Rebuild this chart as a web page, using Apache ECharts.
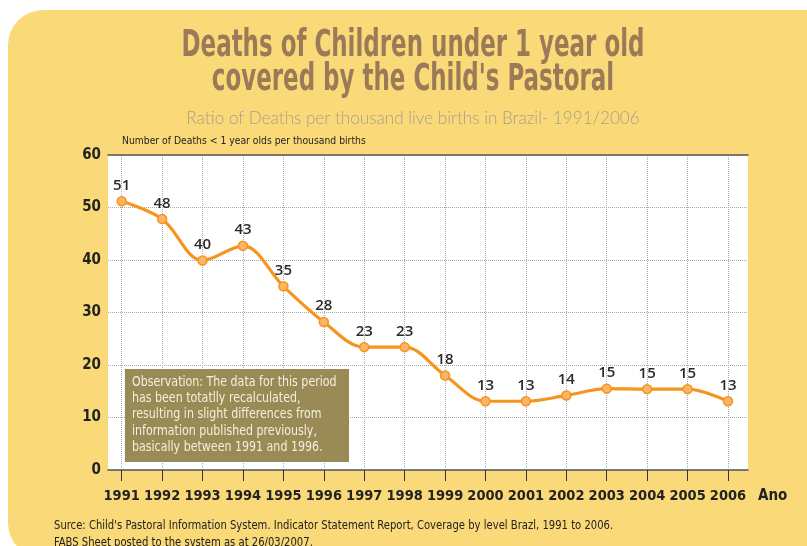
<!DOCTYPE html>
<html>
<head>
<meta charset="utf-8">
<script src="https://cdn.jsdelivr.net/npm/echarts@6/dist/echarts.min.js"></script>
<style>
  html, body { margin: 0; padding: 0; background: #ffffff; overflow: hidden; }
  #panel { position: absolute; left: 8px; top: 10px; width: 830px; height: 548px;
           background: #fad978; border-radius: 35px 0 0 35px; }
  #chart { position: absolute; left: 0; top: 0; width: 807px; height: 546px; }
</style>
</head>
<body>
<div id="panel"></div>
<div id="chart"></div>
<script>
// ---- data ----
const years = ['1991','1992','1993','1994','1995','1996','1997','1998','1999','2000','2001','2002','2003','2004','2005','2006'];
const deathRate = [51.2, 47.8, 39.9, 42.7, 35.0, 28.2, 23.4, 23.4, 18.0, 13.1, 13.1, 14.2, 15.5, 15.4, 15.4, 13.1];
const pointLabels = ['51','48','40','43','35','28','23','23','18','13','13','14','15','15','15','13'];
const yTicks = { min: 0, max: 60, interval: 10 };

const titleLine1 = 'Deaths of Children under 1 year old';
const titleLine2 = "covered by the Child's Pastoral";
const subtitle = 'Ratio of Deaths per thousand live births in Brazil- 1991/2006';
const yAxisName = 'Number of Deaths < 1 year olds per thousand births';
const xAxisName = 'Ano';
const noteLines = [
  'Observation: The data for this period',
  'has been totatlly recalculated,',
  'resulting in slight differences from',
  'information published previously,',
  'basically between 1991 and 1996.'
];
const footer1 = "Surce: Child's Pastoral Information System. Indicator Statement Report, Coverage by level Brazl, 1991 to 2006.";
const footer2 = 'FABS Sheet posted to the system as at 26/03/2007.';

const NARROW = "'Liberation Sans Narrow', 'DejaVu Sans Condensed', sans-serif";

const chart = echarts.init(document.getElementById('chart'), null, { renderer: 'canvas' });

const option = {
  backgroundColor: 'transparent',
  animation: false,
  grid: [
    { left: 108, right: 59, top: 155, bottom: 76, show: true, backgroundColor: '#ffffff', borderWidth: 0 },
    { left: 121.7, right: 79, top: 155, bottom: 76 }
  ],
  xAxis: [
    { gridIndex: 0, type: 'value', min: 0, max: 1, position: 'bottom',
      axisLine: { show: true, lineStyle: { color: '#555', width: 1.5 } },
      axisTick: { show: false }, axisLabel: { show: false }, splitLine: { show: false } },
    { gridIndex: 0, type: 'value', min: 0, max: 1, position: 'top',
      axisLine: { show: true, lineStyle: { color: '#555', width: 1.5 } },
      axisTick: { show: false }, axisLabel: { show: false }, splitLine: { show: false } },
    { gridIndex: 1, type: 'category', data: years, boundaryGap: false, position: 'bottom',
      axisLine: { show: false },
      axisTick: { show: true, length: 11, inside: false, interval: 0, lineStyle: { color: '#333', width: 1 } },
      axisLabel: { show: true, interval: 0, margin: 19, color: '#222', fontSize: 14.5, fontWeight: 'bold', fontFamily: NARROW },
      splitLine: { show: true, interval: 0, lineStyle: { color: '#aaa', type: 'dotted', width: 1 } } }
  ],
  yAxis: [
    { gridIndex: 0, type: 'value', min: yTicks.min, max: yTicks.max, interval: yTicks.interval,
      axisLine: { show: false }, axisTick: { show: false },
      axisLabel: { show: true, margin: 7, color: '#222', fontSize: 15, fontWeight: 'bold', fontFamily: NARROW },
      splitLine: { show: true, lineStyle: { color: '#aaa', type: 'dotted', width: 1 } } },
    { gridIndex: 1, type: 'value', min: yTicks.min, max: yTicks.max, interval: yTicks.interval, show: false }
  ],
  series: [{
    type: 'line',
    xAxisIndex: 2, yAxisIndex: 1,
    data: deathRate,
    smooth: 0.35,
    symbol: 'circle',
    symbolSize: 9,
    lineStyle: { color: '#f7941e', width: 3.2 },
    itemStyle: { color: '#fbb56a', borderColor: '#f7941e', borderWidth: 1.5 },
    label: {
      show: true, position: 'top', distance: 3,
      formatter: p => pointLabels[p.dataIndex],
      color: '#2a2a2a', fontSize: 15, fontWeight: 600, fontFamily: "'Open Sans', sans-serif"
    },
    z: 5
  }],
  graphic: [
    { type: 'text', x: 413, y: 46, z: 50, scaleX: 0.69,
      style: { text: titleLine1, fill: '#9b7a58', font: "bold 37px " + NARROW, align: 'center', verticalAlign: 'middle' } },
    { type: 'text', x: 413, y: 80, z: 50, scaleX: 0.69,
      style: { text: titleLine2, fill: '#9b7a58', font: "bold 37px " + NARROW, align: 'center', verticalAlign: 'middle' } },
    { type: 'text', x: 413, y: 118, z: 50, scaleX: 0.95,
      style: { text: subtitle, fill: '#a8a08c', font: "300 18px Lato, 'Open Sans', sans-serif", align: 'center', verticalAlign: 'middle' } },
    { type: 'text', x: 122, y: 141, z: 50, scaleX: 0.935,
      style: { text: yAxisName, fill: '#222', font: "11px " + NARROW, align: 'left', verticalAlign: 'middle' } },
    { type: 'text', x: 758, y: 496, z: 50,
      style: { text: xAxisName, fill: '#222', font: "bold 15px " + NARROW, align: 'left', verticalAlign: 'middle' } },
    { type: 'rect', z: 60, shape: { x: 125, y: 369, width: 224, height: 93 },
      style: { fill: '#9a8a55' } },
    { type: 'text', x: 132, y: 374, z: 61, scaleX: 0.91,
      style: { text: noteLines.join('\n'), fill: '#f4efdd', font: "13.5px " + NARROW, lineHeight: 16.3, align: 'left', verticalAlign: 'top' } },
    { type: 'text', x: 54, y: 526, z: 50, scaleX: 0.93,
      style: { text: footer1, fill: '#222', font: "12px " + NARROW, align: 'left', verticalAlign: 'middle' } },
    { type: 'text', x: 54, y: 543, z: 50, scaleX: 0.93,
      style: { text: footer2, fill: '#222', font: "12px " + NARROW, align: 'left', verticalAlign: 'middle' } }
  ]
};
chart.setOption(option);
</script>
</body>
</html>
